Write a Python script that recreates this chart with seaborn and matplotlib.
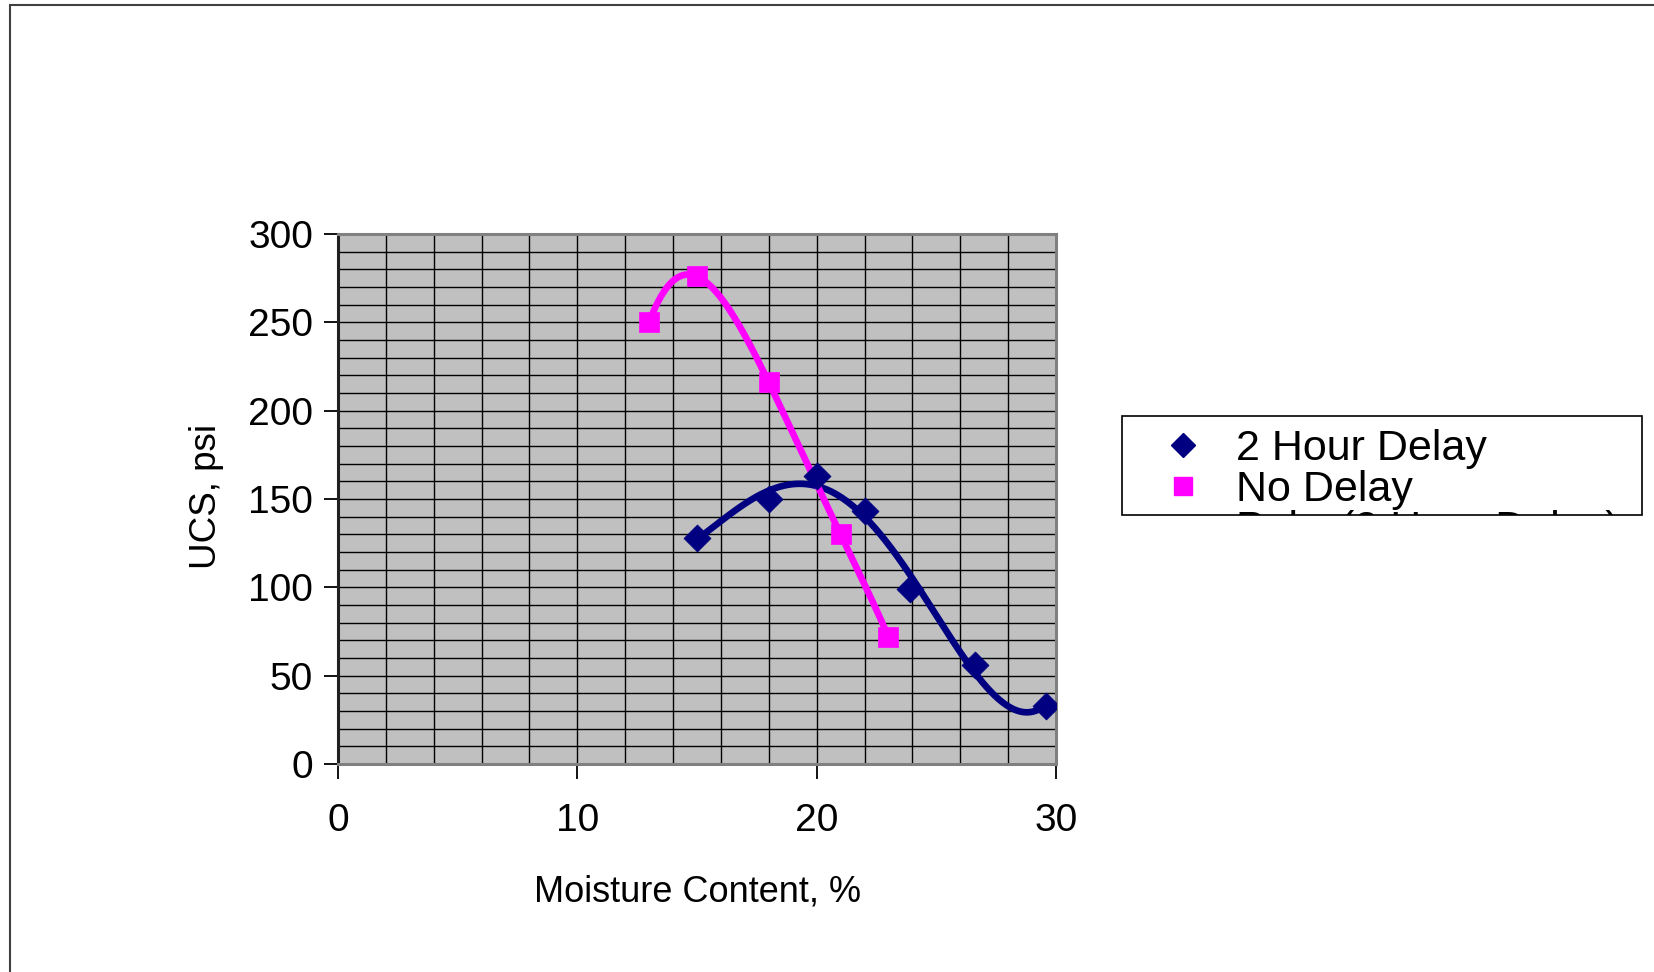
import numpy as np
import pandas as pd
import matplotlib
matplotlib.use("Agg")
import matplotlib.pyplot as plt
from matplotlib.patches import Rectangle
from matplotlib.lines import Line2D
from matplotlib.ticker import MultipleLocator
import seaborn as sns

# ---- data ----
delay2_x = [15.0, 18.0, 20.0, 22.0, 23.9, 26.6, 29.6]
delay2_y = [128, 150, 163, 143, 99, 56, 33]
nodelay_x = [13.0, 15.0, 18.0, 21.0, 23.0]
nodelay_y = [250, 276, 216, 130, 72]
series_names = ["2 Hour Delay", "No Delay", "Poly. (2 Hour Delay)"]
x_ticks = [0, 10, 20, 30]
y_ticks = [0, 50, 100, 150, 200, 250, 300]

sns.set_theme(style="white")
plt.rcParams['font.family'] = ['Liberation Sans', 'DejaVu Sans']
plt.rcParams['text.color'] = 'black'
plt.rcParams['xtick.color'] = 'black'
plt.rcParams['ytick.color'] = 'black'
plt.rcParams['xtick.labelcolor'] = 'black'
plt.rcParams['ytick.labelcolor'] = 'black'

W, H = 1654, 972
fig = plt.figure(figsize=(W / 100, H / 100), dpi=100)
fig.patch.set_facecolor("white")

ax = fig.add_axes([338 / W, 1 - 764 / H, (1056 - 338) / W, (764 - 234) / H])
ax.set_facecolor("#C0C0C0")

navy = "#000080"
magenta = "#FF00FF"

# fitted trend curves (polynomial trendlines computed from the data)
def trend(xs, ys, deg):
    c = np.polyfit(xs, ys, deg)
    xx = np.linspace(min(xs), max(xs), 300)
    return pd.DataFrame({"x": xx, "y": np.polyval(c, xx)})

t2 = trend(delay2_x, delay2_y, 4)
t0 = trend(nodelay_x, nodelay_y, 4)
sns.lineplot(data=t2, x="x", y="y", ax=ax, color=navy, lw=4.8, zorder=3, sort=False)
sns.lineplot(data=t0, x="x", y="y", ax=ax, color=magenta, lw=4.8, zorder=3, sort=False)

d2 = pd.DataFrame({"x": delay2_x, "y": delay2_y})
d0 = pd.DataFrame({"x": nodelay_x, "y": nodelay_y})
sns.scatterplot(data=d2, x="x", y="y", ax=ax, marker="D", s=190, color=navy,
                edgecolor=navy, linewidth=0.5, zorder=4)
sns.scatterplot(data=d0, x="x", y="y", ax=ax, marker="s", s=210, color=magenta,
                edgecolor=magenta, linewidth=0.5, zorder=4)

ax.set_xlim(0, 30)
ax.set_ylim(0, 300)
ax.set_xticks(x_ticks)
ax.set_yticks(y_ticks)
ax.xaxis.set_minor_locator(MultipleLocator(2))
ax.yaxis.set_minor_locator(MultipleLocator(10))
ax.grid(True, which="both", color="black", lw=1.0)
ax.set_axisbelow(True)
ax.tick_params(axis="both", which="minor", length=0)
ax.tick_params(axis="y", which="major", direction="out", length=10, width=1.3,
               color="black", labelcolor="black", labelsize=28, pad=8, left=True)
ax.tick_params(axis="x", which="major", direction="out", length=11, width=1.3,
               color="black", labelcolor="black", labelsize=28, pad=17, bottom=True)
for s in ["top", "right", "bottom"]:
    ax.spines[s].set_color("#808080")
    ax.spines[s].set_linewidth(2.2)
ax.spines["left"].set_color("#202020")
ax.spines["left"].set_linewidth(2.2)

ax.set_xlabel("")
ax.set_ylabel("")
fig.text(698 / W, 1 - 892 / H, "Moisture Content, %", fontsize=26,
         ha="center", va="center", color="black")
fig.text(207 / W, 1 - 496 / H, "UCS, psi", fontsize=26.5, rotation=90,
         ha="center", va="center", color="black")

# outer chart border (partly outside the image)
fig.patches.append(Rectangle((10 / W, -0.2), 1.2, 1 - 5 / H + 0.2,
                             transform=fig.transFigure, fill=False,
                             edgecolor="#404040", lw=1.5))

# legend box (manual, last entry clipped by the frame like the original)
lx0, ly0, lx1, ly1 = 1122, 416, 1642, 515
frame = Rectangle((lx0 / W, 1 - ly1 / H), (lx1 - lx0) / W, (ly1 - ly0) / H,
                  transform=fig.transFigure, facecolor="white",
                  edgecolor="black", lw=1.2)
fig.patches.append(frame)
baselines = [460, 501, 541]
marker_specs = [("D", navy, 12), ("s", magenta, 13)]
for i, name in enumerate(series_names):
    t = fig.text(1236 / W, 1 - baselines[i] / H, name, fontsize=31,
                 ha="left", va="baseline", color="black")
    t.set_clip_path(frame)
    if i < len(marker_specs):
        m, c, ms = marker_specs[i]
        fig.lines.append(Line2D([1183 / W], [1 - (baselines[i] - 15) / H],
                                transform=fig.transFigure, marker=m,
                                markersize=ms, color=c, linestyle="none"))

fig.savefig("out.png", dpi=100)
